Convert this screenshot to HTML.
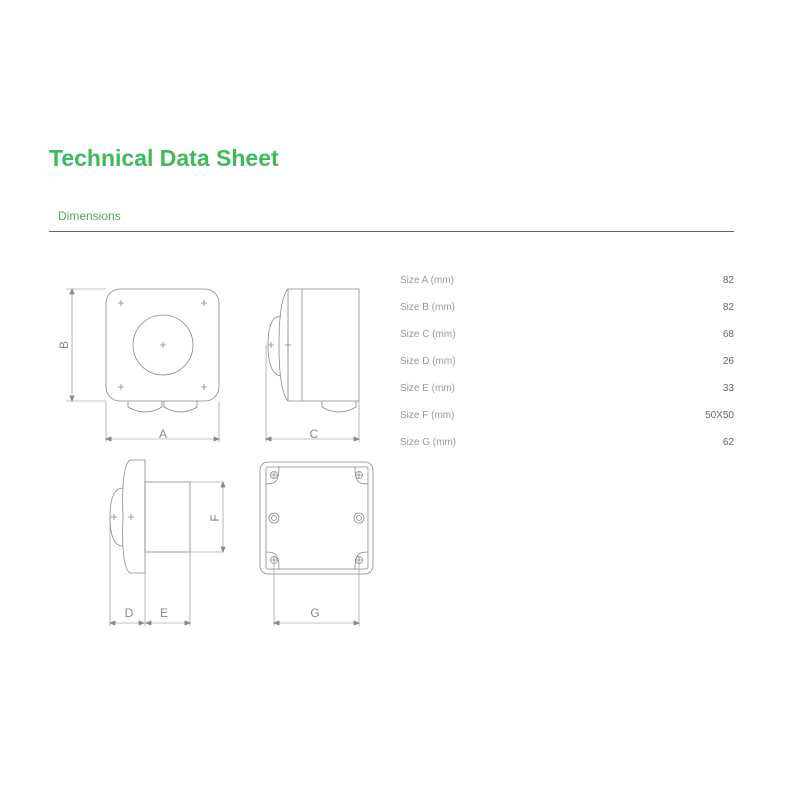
<!DOCTYPE html>
<html><head><meta charset="utf-8"><style>
html,body{margin:0;padding:0;background:#fff;}
body{width:800px;height:800px;position:relative;overflow:hidden;font-family:"Liberation Sans",sans-serif;}
.t{position:absolute;white-space:nowrap;}
</style></head><body>
<div class="t" style="left:49px;top:145px;font-size:23px;font-weight:bold;color:#3dba5a;letter-spacing:0px;">Technical Data Sheet</div>
<div class="t" style="left:58px;top:209px;font-size:12px;color:#4aa864;">Dimensions</div>
<div style="position:absolute;left:49px;top:231px;width:685px;height:1px;background:#666;"></div>
<svg width="800" height="800" style="position:absolute;left:0;top:0" xmlns="http://www.w3.org/2000/svg">
<g font-family="Liberation Sans, sans-serif" font-size="10" fill="#999">
<text x="400" y="283">Size A (mm)</text><text x="734" y="283" text-anchor="end" fill="#666">82</text>
<text x="400" y="310">Size B (mm)</text><text x="734" y="310" text-anchor="end" fill="#666">82</text>
<text x="400" y="337">Size C (mm)</text><text x="734" y="337" text-anchor="end" fill="#666">68</text>
<text x="400" y="364">Size D (mm)</text><text x="734" y="364" text-anchor="end" fill="#666">26</text>
<text x="400" y="391">Size E (mm)</text><text x="734" y="391" text-anchor="end" fill="#666">33</text>
<text x="400" y="418">Size F (mm)</text><text x="734" y="418" text-anchor="end" fill="#666">50X50</text>
<text x="400" y="445">Size G (mm)</text><text x="734" y="445" text-anchor="end" fill="#666">62</text>
</g>
<g fill="none" stroke="#888" stroke-width="0.8">
<rect x="106" y="289" width="113" height="112" rx="14"/>
<circle cx="163" cy="345" r="30"/>
<path d="M128 401 v6 q17 10 34 0 v-6 M164 401 v6 q17 10 33 0 v-6"/>
<path d="M118 303h6M121 300v6M201 303h6M204 300v6M118 387h6M121 384v6M201 387h6M204 384v6M160 345h6M163 342v6"/>
<path d="M66 289h40M66 401h40M72 291v108M106 401v41M219 401v41M108 439h109" stroke-width="0.6"/>
<path d="M72 289l-2 5h4zM72 401l-2 -5h4zM106 439l5 -2v4zM219 439l-5 -2v4z" fill="#888"/>
<path d="M288 289 h71 v112 h-71 q-9 -10 -9 -56 q0 -46 9 -56z"/>
<path d="M288 289v112M302 289v112"/>
<path d="M281 316 q-13 0 -13 29 q0 29 13 31"/>
<path d="M322 401 v6 q17 10 34 0 v-6"/>
<path d="M268 345h6M271 342v6M285 345h6M288 342v6"/>
<path d="M266 345v97M359 401v41M268 439h89" stroke-width="0.6"/>
<path d="M266 439l5 -2v4zM359 439l-5 -2v4z" fill="#888"/>
<path d="M145 460 h-15 q-9 6 -7 57 q-2 50 7 56 h15z"/>
<path d="M123 488 q-13 0 -13 29 q0 29 13 29"/>
<rect x="145" y="482" width="45" height="70"/>
<path d="M111 517h6M114 514v6M128 517h6M131 514v6"/>
<path d="M190 482h33M190 552h33M223 484v66" stroke-width="0.6"/>
<path d="M223 482l-2 5h4zM223 552l-2 -5h4z" fill="#888"/>
<path d="M110 517v109M145 573v53M190 552v74M112 623h31M147 623h41" stroke-width="0.6"/>
<path d="M110 623l5 -2v4zM144 623l-5 -2v4zM146 623l5 -2v4zM190 623l-5 -2v4z" fill="#888"/>
<rect x="260" y="462" width="113" height="112" rx="8"/>
<rect x="266" y="467" width="102" height="102" rx="2"/>
<path d="M266 484 q8 0 10 -3 q3 -3 3 -14 M368 484 q-8 0 -10 -3 q-3 -3 -3 -14 M266 552 q8 0 10 3 q3 3 3 14 M368 552 q-8 0 -10 3 q-3 3 -3 14"/>
<circle cx="274" cy="475" r="3.5"/><circle cx="359" cy="475" r="3.5"/><circle cx="274" cy="560" r="3.5"/><circle cx="359" cy="560" r="3.5"/>
<circle cx="274" cy="518" r="5"/><circle cx="274" cy="518" r="2.5"/><circle cx="359" cy="518" r="5"/><circle cx="359" cy="518" r="2.5"/>
<path d="M271 475h6M274 472v6M356 475h6M359 472v6M271 560h6M274 557v6M356 560h6M359 557v6"/>
<path d="M274 564v62M359 564v62M276 623h81" stroke-width="0.6"/>
<path d="M274 623l5 -2v4zM359 623l-5 -2v4z" fill="#888"/>
</g>
<g font-family="Liberation Sans, sans-serif" font-size="12" fill="#888" text-anchor="middle">
<text x="163" y="438">A</text>
<text x="314" y="438">C</text>
<text x="129" y="617">D</text>
<text x="164" y="617">E</text>
<text x="315" y="617">G</text>
<text transform="translate(68,345) rotate(-90)">B</text>
<text transform="translate(219,518) rotate(-90)">F</text>
</g>
</svg>
</body></html>
